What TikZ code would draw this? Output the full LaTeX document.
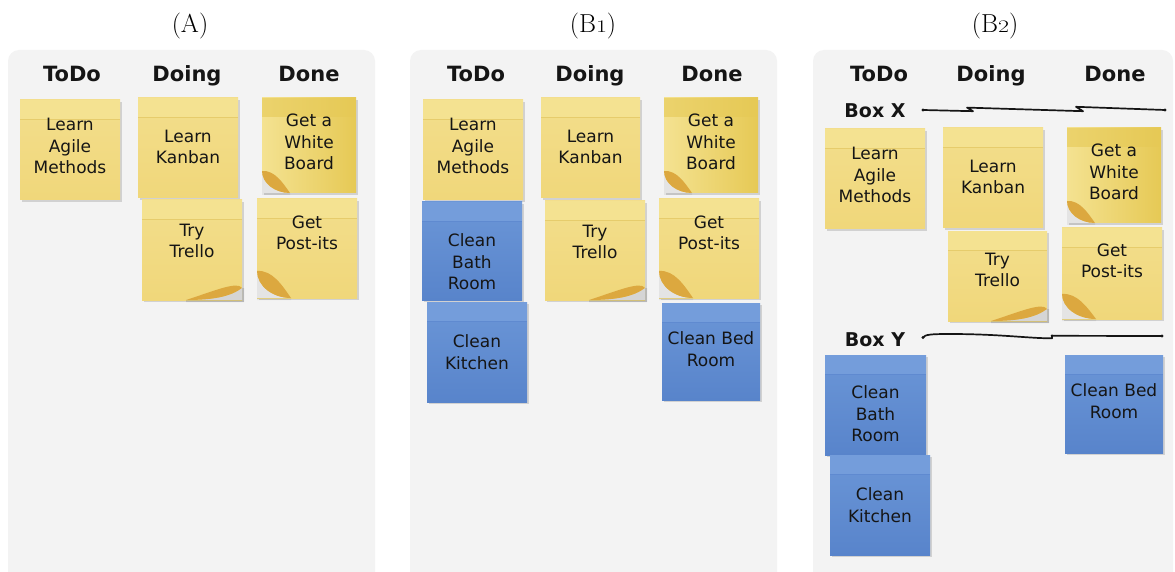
\documentclass[tikz,border=0pt]{standalone}
\usepackage{fontspec}
\usepackage{graphicx}
\newfontfamily\handfont{DejaVu Sans}
\usetikzlibrary{shadows,calc}

\definecolor{panelgray}{HTML}{F3F3F3}
\definecolor{noteYtop}{HTML}{F3DE8C}
\definecolor{noteYbot}{HTML}{F0D77A}
\definecolor{noteYband}{HTML}{F4E291}
\definecolor{noteYline}{HTML}{E6CC6C}
\definecolor{noteYdeep}{HTML}{E6C955}
\definecolor{noteBtop}{HTML}{6B96D7}
\definecolor{noteBbot}{HTML}{5884CB}
\definecolor{noteBband}{HTML}{749DDB}
\definecolor{noteBline}{HTML}{5F8AD0}
\definecolor{curlcolor}{HTML}{DCA83F}
\definecolor{inkcolor}{HTML}{151515}

\tikzset{
  board/.style={fill=panelgray, rounded corners=11pt},
  notebase/.style={anchor=north west, inner sep=0pt, outer sep=0pt,
    drop shadow={shadow xshift=1.6pt, shadow yshift=-2.2pt, opacity=.2, fill=black!70}},
  yellownote/.style={notebase, top color=noteYtop, bottom color=noteYbot,
    path picture={
      \fill[noteYband] (path picture bounding box.north west)
        rectangle ([yshift=-19pt]path picture bounding box.north east);
      \draw[noteYline, line width=.6pt] ([yshift=-19pt]path picture bounding box.north west)
        -- ([yshift=-19pt]path picture bounding box.north east);}},
  boardnote/.style={notebase, left color=noteYband, right color=noteYdeep,
    path picture={
      \fill[noteYdeep, opacity=.6] (path picture bounding box.north west)
        rectangle ([yshift=-19pt]path picture bounding box.north east);}},
  bluenote/.style={notebase, top color=noteBtop, bottom color=noteBbot,
    path picture={
      \fill[noteBband] (path picture bounding box.north west)
        rectangle ([yshift=-19pt]path picture bounding box.north east);
      \draw[noteBline, line width=.6pt] ([yshift=-19pt]path picture bounding box.north west)
        -- ([yshift=-19pt]path picture bounding box.north east);}},
  notetext/.style={font=\handfont\fontsize{17}{21.5}\selectfont, align=center,
    text=inkcolor, inner sep=0pt},
  colhead/.style={font=\handfont\bfseries\fontsize{21}{24}\selectfont, anchor=base, text=inkcolor},
  boxhead/.style={font=\handfont\bfseries\fontsize{19}{22}\selectfont, anchor=base, text=inkcolor},
  paneltitle/.style={font=\fontsize{26}{30}\selectfont, anchor=base},
  swimline/.style={draw=inkcolor, line width=1.7pt, line cap=round, line join=round},
  enddot/.style={fill=inkcolor},
}

% #1 name, #2 style, #3 #4 top-left corner, #5 width, #6 height, #7 text drop, #8 text
\newcommand{\postit}[8]{%
  \node[#2, minimum width=#5pt, minimum height=#6pt] (#1) at (#3,#4) {};
  \node[notetext] (#1-text) at ($(#1.north)+(0,#7)$) {#8};
}

% lifted corner at the lower left: #1 note, #2 width, #3 height of the fold
\newcommand{\curlleft}[3]{%
  \begin{scope}[shift={(#1.south west)}]
    \fill[panelgray] (0,-#3) .. controls (0,-0.45*#3) and (0.45*#2,0) .. (#2,0) -- (0,0) -- cycle;
    \fill[black, opacity=.06] (0,-#3) .. controls (0,-0.45*#3) and (0.45*#2,0) .. (#2,0) -- (#2,2) -- (0,2) -- cycle;
    \fill[curlcolor] (0,-#3) .. controls (0,-0.45*#3) and (0.45*#2,0) .. (#2,0)
      .. controls (0.75*#2,-0.45*#3) and (0.45*#2,-1.05*#3) .. (0,-#3);
  \end{scope}%
}

% lifted corner at the lower right: #1 note, #2 width, #3 height of the fold
\newcommand{\curlright}[3]{%
  \begin{scope}[shift={(#1.south east)}]
    \fill[panelgray] (-#2,0) .. controls (-0.5*#2,0) and (-0.2*#2,-0.3*#3) .. (0,-#3) -- (0,0) -- cycle;
    \fill[black, opacity=.12] (-#2,0) .. controls (-0.5*#2,0) and (-0.2*#2,-0.3*#3) .. (0,-#3) -- (2,-#3) -- (2,2) -- (-#2,2) -- cycle;
    \fill[curlcolor] (-#2,0) .. controls (-0.5*#2,0) and (-0.2*#2,-0.3*#3) .. (0,-#3)
      .. controls (-0.08*#2,-1.6*#3) and (-0.5*#2,-0.75*#3) .. (-#2,0);
  \end{scope}%
}

\newcommand{\oldone}{\scalebox{0.92}[0.68]{1}}
\newcommand{\oldtwo}{\scalebox{0.92}[0.68]{2}}

\begin{document}
\begin{tikzpicture}[x=1pt, y=-1pt]
  \useasboundingbox (0,0) rectangle (1175,572);
  \clip (0,0) rectangle (1175,572);
  \fill[white] (0,0) rectangle (1175,572);

  % boards
  \fill[board] (8,50) rectangle (375,600);
  \fill[board] (410,50) rectangle (777,600);
  \fill[board] (813,50) rectangle (1173,600);

  % titles
  \node[paneltitle] (titleA) at (190,33) {(A)};
  \node[paneltitle] (titleB1) at (593,33) {(B\oldone)};
  \node[paneltitle] (titleB2) at (995,33) {(B\oldtwo)};

  % column heads
  \node[colhead] (todoA)  at (72,82)  {ToDo};
  \node[colhead] (doingA) at (187,82) {Doing};
  \node[colhead] (doneA)  at (309,82) {Done};
  \node[colhead] (todoB)  at (476,82) {ToDo};
  \node[colhead] (doingB) at (590,82) {Doing};
  \node[colhead] (doneB)  at (712,82) {Done};
  \node[colhead] (todoC)  at (879,82) {ToDo};
  \node[colhead] (doingC) at (991,82) {Doing};
  \node[colhead] (doneC)  at (1115,82) {Done};

  % board A
  \postit{agileA}{yellownote}{20}{100}{100}{100}{46}{Learn\\Agile\\Methods}
  \postit{kanbanA}{yellownote}{138}{98}{100}{100}{49}{Learn\\Kanban}
  \postit{boardA}{boardnote}{262}{98}{94}{95}{44}{Get a\\White\\Board}
  \postit{trelloA}{yellownote}{142}{200}{100}{100}{41}{Try\\Trello}
  \postit{postitsA}{yellownote}{257}{199}{100}{99}{34}{Get\\Post-its}
  \curlleft{boardA}{28}{22}
  \curlleft{postitsA}{34}{27}
  \curlright{trelloA}{56}{12}

  % board B1
  \postit{agileB}{yellownote}{423}{100}{100}{100}{46}{Learn\\Agile\\Methods}
  \postit{kanbanB}{yellownote}{541}{98}{99}{100}{49}{Learn\\Kanban}
  \postit{boardB}{boardnote}{664}{98}{94}{95}{44}{Get a\\White\\Board}
  \postit{bathB}{bluenote}{422}{202}{100}{98}{60}{Clean\\Bath\\Room}
  \postit{trelloB}{yellownote}{545}{201}{100}{99}{41}{Try\\Trello}
  \postit{postitsB}{yellownote}{659}{199}{100}{99}{34}{Get\\Post-its}
  \postit{kitchenB}{bluenote}{427}{302}{100}{100}{50}{Clean\\Kitchen}
  \postit{bedB}{bluenote}{662}{303}{98}{97}{46}{Clean Bed\\Room}
  \curlleft{boardB}{28}{22}
  \curlleft{postitsB}{34}{27}
  \curlright{trelloB}{56}{12}

  % board B2 with swim lanes
  \node[boxhead] (laneX) at (875,118) {Box X};
  \node[boxhead] (laneY) at (875,346) {Box Y};

  \coordinate (x1) at (923,110);
  \coordinate (x2) at (973,111.2);
  \coordinate (x3) at (967,107.6);
  \coordinate (x4) at (1083,111.2);
  \coordinate (x5) at (1076,106.8);
  \coordinate (x6) at (1165,110);
  \draw[swimline] (x1) -- (x2) -- (x3) -- (x4) -- (x5) -- (x6);
  \fill[enddot] (x1) circle (1.6pt);
  \fill[enddot] (x6) circle (1.6pt);

  \coordinate (y1) at (923,337.5);
  \coordinate (y2) at (950,334);
  \coordinate (y3) at (1052,338.3);
  \coordinate (y4) at (1052,335.8);
  \coordinate (y5) at (1162,336);
  \draw[swimline] (y1) .. controls (925,334.5) and (931,334) .. (y2)
    .. controls (1000,334) and (1030,338.5) .. (y3) -- (y4) -- (y5);
  \fill[enddot] (y1) circle (1.6pt);
  \fill[enddot] (y4) circle (1.4pt);
  \fill[enddot] (y5) circle (1.6pt);

  \postit{agileC}{yellownote}{825}{129}{100}{100}{46}{Learn\\Agile\\Methods}
  \postit{kanbanC}{yellownote}{943}{128}{100}{100}{49}{Learn\\Kanban}
  \postit{boardC}{boardnote}{1067}{128}{94}{95}{44}{Get a\\White\\Board}
  \postit{trelloC}{yellownote}{948}{231}{99}{90}{39}{Try\\Trello}
  \postit{postitsC}{yellownote}{1062}{228}{100}{91}{33}{Get\\Post-its}
  \curlleft{boardC}{28}{22}
  \curlleft{postitsC}{34}{25}
  \curlright{trelloC}{56}{12}

  \postit{bathC}{bluenote}{825}{355}{101}{100}{59}{Clean\\Bath\\Room}
  \postit{kitchenC}{bluenote}{830}{455}{100}{100}{50}{Clean\\Kitchen}
  \postit{bedC}{bluenote}{1065}{355}{98}{98}{46}{Clean Bed\\Room}
\end{tikzpicture}
\end{document}
